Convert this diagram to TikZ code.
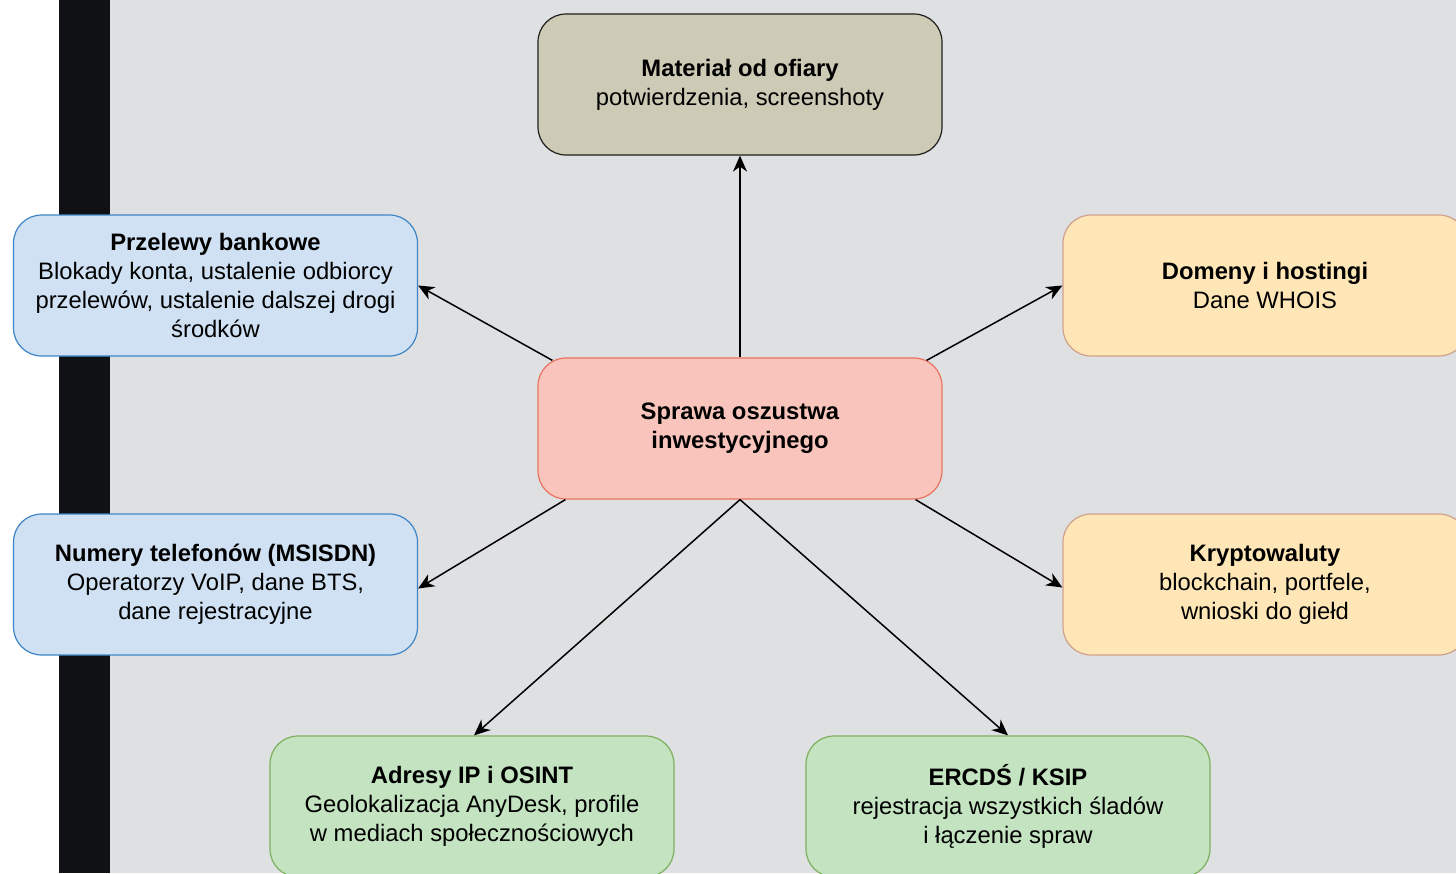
\documentclass[tikz,border=0pt]{standalone}
\usepackage{fontspec}
\setmainfont{Liberation Sans}
\usetikzlibrary{arrows.meta}
\definecolor{bgc}{HTML}{DFE0E2}
\definecolor{barc}{HTML}{0F1115}
\definecolor{topfill}{HTML}{CDCAB6}
\definecolor{topdraw}{HTML}{1E1E1E}
\definecolor{redfill}{HTML}{F8C4BB}
\definecolor{reddraw}{HTML}{E8735F}
\definecolor{bluefill}{HTML}{D0E1F3}
\definecolor{bluedraw}{HTML}{3D85C6}
\definecolor{yelfill}{HTML}{FEE6B6}
\definecolor{yeldraw}{HTML}{D0A08C}
\definecolor{grnfill}{HTML}{C3E3C1}
\definecolor{grndraw}{HTML}{7DB05E}
\begin{document}
\begin{tikzpicture}[x=1pt,y=-1pt,
  box/.style={draw, rounded corners=28pt, minimum width=404pt, minimum height=141pt,
    align=center, font=\fontsize{23.8}{29}\selectfont, line width=1.2pt, inner sep=0pt},
  topbox/.style={box, fill=topfill, draw=topdraw},
  redbox/.style={box, fill=redfill, draw=reddraw},
  bluebox/.style={box, fill=bluefill, draw=bluedraw},
  yelbox/.style={box, fill=yelfill, draw=yeldraw},
  grnbox/.style={box, fill=grnfill, draw=grndraw},
  arr/.style={-{Stealth[length=16pt,width=14pt,inset=5pt]}, line width=1.5pt, black}]
\useasboundingbox (0,0) rectangle (1456,873);
\clip (0,0) rectangle (1456,873);
\fill[white] (0,0) rectangle (59,873);
\fill[barc] (59,0) rectangle (110,873);
\fill[bgc] (110,0) rectangle (1456,873);

\node[topbox] (top) at (740,84.5) {\textbf{Materiał od ofiary}\\potwierdzenia, screenshoty};
\node[redbox] (c) at (740,428.5) {\textbf{Sprawa oszustwa}\\\textbf{inwestycyjnego}};
\node[bluebox] (lt) at (215.5,285.5) {\textbf{Przelewy bankowe}\\Blokady konta, ustalenie odbiorcy\\przelewów, ustalenie dalszej drogi\\środków};
\node[bluebox] (lb) at (215.5,584.5) {\textbf{Numery telefonów (MSISDN)}\\Operatorzy VoIP, dane BTS,\\dane rejestracyjne};
\node[yelbox] (rt) at (1265,285.5) {\textbf{Domeny i hostingi}\\Dane WHOIS};
\node[yelbox] (rb) at (1265,584.5) {\textbf{Kryptowaluty}\\blockchain, portfele,\\wnioski do giełd};
\node[grnbox] (bl) at (472,806.5) {\textbf{Adresy IP i OSINT}\\Geolokalizacja AnyDesk, profile\\w mediach społecznościowych};
\node[grnbox] (br) at (1008,806.5) {\textbf{ERCDŚ / KSIP}\\rejestracja wszystkich śladów\\i łączenie spraw};

\draw[arr] (c.north) -- (top.south);
\draw[arr] ([shift={(15,3)}]c.north west) -- (lt.east);
\draw[arr] ([shift={(28,0)}]c.south west) -- ([yshift=-4pt]lb.east);
\draw[arr] ([shift={(-16,3)}]c.north east) -- (rt.west);
\draw[arr] ([shift={(-27,0)}]c.south east) -- ([yshift=-3pt]rb.west);
\draw[arr] (c.south) -- ([xshift=2pt]bl.north);
\draw[arr] (c.south) -- (br.north);
\end{tikzpicture}
\end{document}
